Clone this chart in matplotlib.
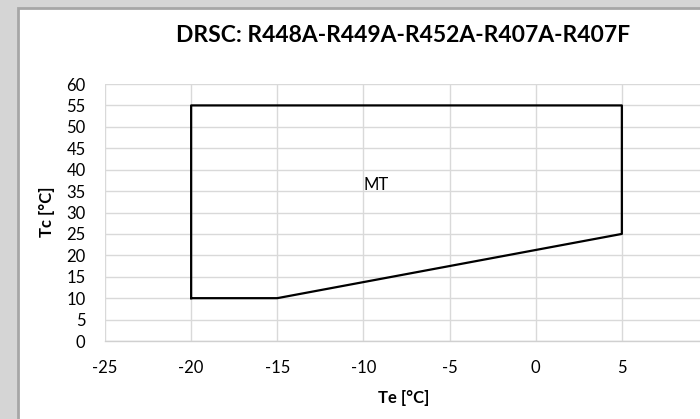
import matplotlib
matplotlib.use("Agg")
import matplotlib.pyplot as plt
from matplotlib.patches import Rectangle

# Data
te = [-20, -15, 5, 5, -20, -20]
tc = [10, 10, 25, 55, 55, 10]
x_ticks = [-25, -20, -15, -10, -5, 0, 5, 10]
y_ticks = [0, 5, 10, 15, 20, 25, 30, 35, 40, 45, 50, 55, 60]
title = "DRSC: R448A-R449A-R452A-R407A-R407F"
region_label = "MT"
region_pos = (-10, 34.5)

plt.rcParams['font.family'] = ['Lato', 'DejaVu Sans']
plt.rcParams['axes.unicode_minus'] = False

W, H = 700, 419
fig = plt.figure(figsize=(W / 100, H / 100), dpi=100)
fig.patch.set_facecolor('#d5d5d5')

# white chart area with grey frame
fig.patches.append(Rectangle((18 / W, -0.1), 1, (H - 8) / H + 0.1, transform=fig.transFigure,
                             facecolor='white', edgecolor='#a6a6a6', linewidth=2.0, zorder=-5))

left, right = 105 / W, 708 / W
bottom, top = (H - 341) / H, (H - 84) / H
ax = fig.add_axes([left, bottom, right - left, top - bottom])
ax.set_zorder(1)
ax.set_facecolor('white')
ax.set_xlim(-25, 10)
ax.set_ylim(0, 60)
ax.set_xticks(x_ticks)
ax.set_yticks(y_ticks)
ax.grid(True, color='#d9d9d9', linewidth=1.0)
ax.set_axisbelow(True)
for s in ax.spines.values():
    s.set_visible(False)
ax.spines['bottom'].set_visible(True)
ax.spines['bottom'].set_color('#d0d0d0')
ax.spines['bottom'].set_linewidth(1.0)
ax.tick_params(length=0, labelsize=12, colors='#000000')
ax.tick_params(axis='y', pad=14)
ax.tick_params(axis='x', pad=14)

ax.plot(te, tc, color='black', linewidth=1.6, clip_on=False)
ax.text(region_pos[0], region_pos[1], region_label, ha='left', va='bottom', fontsize=12)

fig.text(403 / W, 1 - 36 / H, title, ha='center', va='center', fontsize=16.5, fontweight='bold')
fig.text(404 / W, 1 - 398 / H, "Te [°C]", ha='center', va='center', fontsize=12, fontweight='bold')
fig.text(47 / W, 1 - 212 / H, "Tc [°C]", ha='center', va='center', fontsize=12,
         fontweight='bold', rotation=90)

fig.savefig("out.png", dpi=100, facecolor=fig.get_facecolor())
